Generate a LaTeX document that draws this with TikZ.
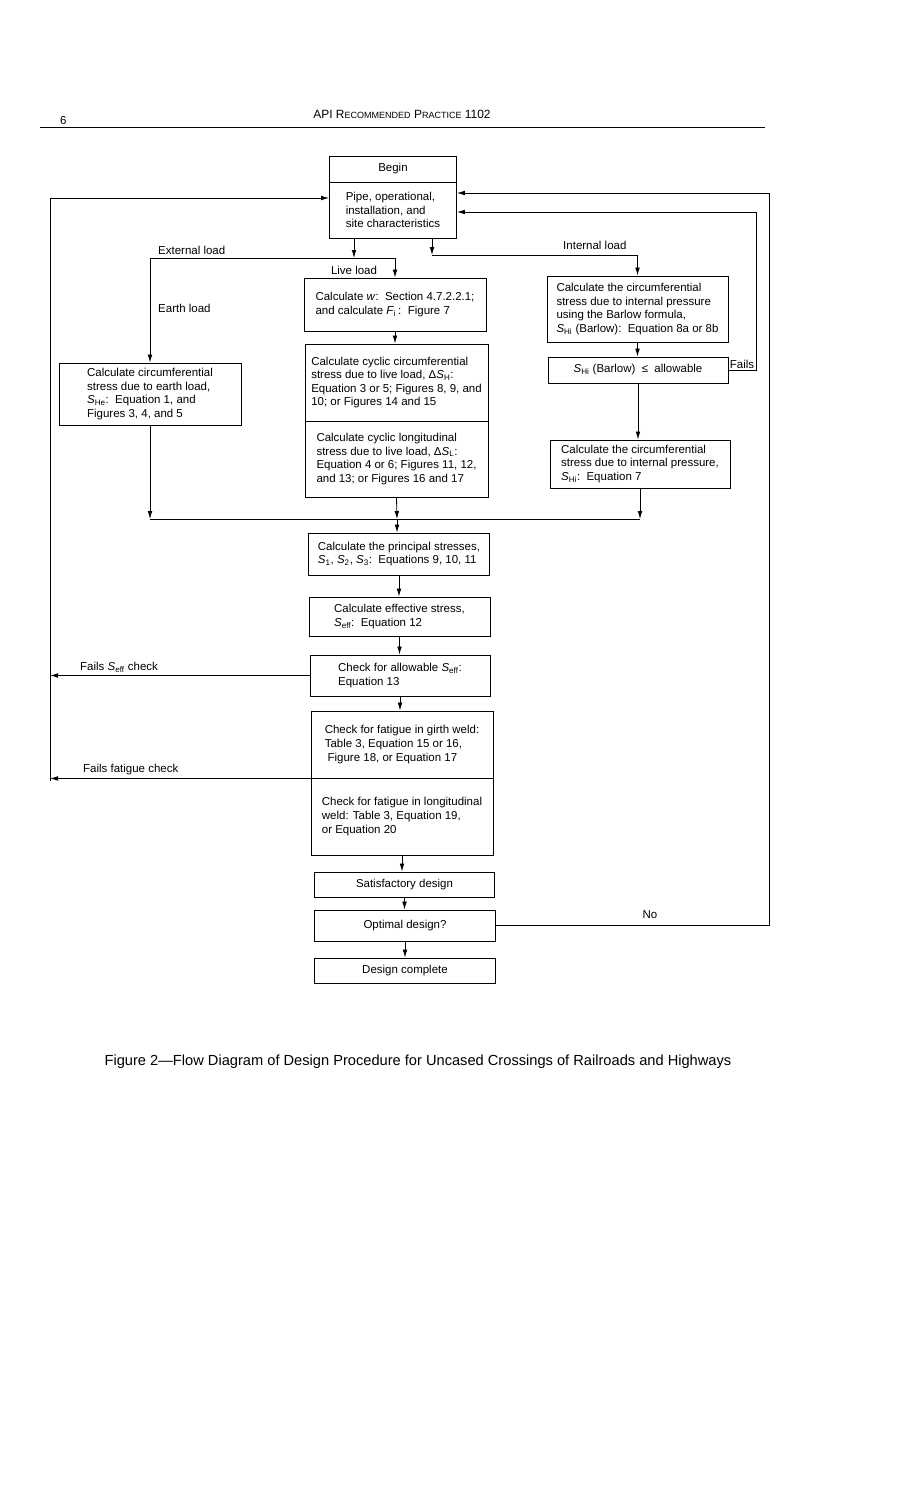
\documentclass[tikz,border=0pt]{standalone}
\usepackage{fontspec}
\setmainfont{Liberation Sans}
\usetikzlibrary{arrows.meta}

\newcommand{\Sx}[1]{\textit{S}\textsubscript{#1}}
\newcommand{\fakesc}[1]{{\fontsize{7.7}{9}\selectfont #1}}

\tikzset{boxsize/.style 2 args={minimum width=#1*0.3mm, minimum height=#2*0.3mm}}

\begin{document}
\begin{tikzpicture}[
  x=0.3mm, y=-0.3mm,
  font=\fontsize{9.8}{11.6}\selectfont,
  box/.style={draw=black, line width=0.75pt, align=left, inner sep=0pt},
  lbl/.style={inner sep=0pt, anchor=west},
  arrow/.style={-{Latex[length=2.4mm,width=1.4mm]}, line width=0.7pt},
  line/.style={line width=0.7pt}
]
  \useasboundingbox (0,0) rectangle (904,1487);

  % page head
  \node[anchor=west] (pageno) at (56,121) {6};
  \node[font=\fontsize{10.2}{12}\selectfont] (head) at (402,114) {API R\fakesc{ECOMMENDED} P\fakesc{RACTICE} 1102};
  \draw[line width=0.5pt] (40,127) -- (765,127);

  % boxes
  \node[box, boxsize={127}{26}, align=center] (begin) at (393,169) {Begin};
  \node[box, boxsize={127}{56}] (pipe) at (393,210) {Pipe, operational,\\installation, and\\site characteristics};
  \node[box, boxsize={182}{53}] (live) at (395,304.5) {Calculate \textit{w}:\ \ Section 4.7.2.2.1;\\and calculate \textit{F}\textsubscript{i}\,:\ \ Figure 7};
  \node[box, boxsize={183}{77}] (cycH) at (396.5,382.5) {Calculate cyclic circumferential\\stress due to live load, Δ\Sx{H}:\\Equation 3 or 5; Figures 8, 9, and\\10; or Figures 14 and 15};
  \node[box, boxsize={183}{76}] (cycL) at (396.5,459) {Calculate cyclic longitudinal\\stress due to live load, Δ\Sx{L}:\\Equation 4 or 6; Figures 11, 12,\\and 13; or Figures 16 and 17};
  \node[box, boxsize={182}{62}] (earth) at (150,394) {Calculate circumferential\\stress due to earth load,\\\Sx{He}:\ \ Equation 1, and\\Figures 3, 4, and 5};
  \node[box, boxsize={181}{66}] (barlow) at (637.5,309) {Calculate the circumferential\\stress due to internal pressure\\using the Barlow formula,\\\Sx{Hi} (Barlow):\ \ Equation 8a or 8b};
  \node[box, boxsize={180}{26}, align=center] (allow) at (638,370) {\Sx{Hi} (Barlow)\ \ ≤\ \ allowable};
  \node[box, boxsize={180}{48}] (shi) at (640,464) {Calculate the circumferential\\stress due to internal pressure,\\\Sx{Hi}:\ \ Equation 7};
  \node[box, boxsize={181}{42}] (princ) at (399,554) {Calculate the principal stresses,\\\Sx{1}, \Sx{2}, \Sx{3}:\ \ Equations 9, 10, 11};
  \node[box, boxsize={181}{39}] (eff) at (399.5,616.5) {Calculate effective stress,\\\Sx{eff}:\ \ Equation 12};
  \node[box, boxsize={180}{41}] (allowS) at (400,675.5) {Check for allowable \Sx{eff}:\\Equation 13};
  \node[box, boxsize={182}{67}] (fatG) at (402,744.5) {Check for fatigue in girth weld:\\Table 3, Equation 15 or 16,\\\hspace*{0.25em}Figure 18, or Equation 17};
  \node[box, boxsize={182}{77}] (fatL) at (402,816.5) {Check for fatigue in longitudinal\\weld: Table 3, Equation 19,\\or Equation 20};
  \node[box, boxsize={180}{25}, align=center] (satis) at (404.5,884.5) {Satisfactory design};
  \node[box, boxsize={181}{31}, align=center] (optim) at (405,925.5) {Optimal design?};
  \node[box, boxsize={181}{25}, align=center] (compl) at (405,970.5) {Design complete};

  % branch points
  \coordinate (extj) at (354,258);
  \coordinate (intj) at (432,255);
  \coordinate (mrg) at (397,519);
  \coordinate (lbot) at (50,781);
  \coordinate (ltop) at (50,198);
  \coordinate (rin) at (756,212);
  \coordinate (rout) at (769,193);

  % loads
  \draw[arrow] (extj |- pipe.south) -- (extj);
  \draw[arrow] (extj) -- (extj -| earth.north) -- (earth.north);
  \draw[arrow] (extj) -- (extj -| live.north) -- (live.north);
  \draw[arrow] (intj |- pipe.south) -- (intj);
  \draw[arrow] (intj) -- (intj -| barlow.north) -- (barlow.north);
  \node[lbl] (extlbl) at (158,250) {External load};
  \node (livelbl) at (354,270) {Live load};
  \node[lbl] (earthlbl) at (158,308) {Earth load};
  \node[lbl] (intlbl) at (563,245) {Internal load};

  % stress paths
  \draw[arrow] (live.south) -- (live.south |- cycH.north);
  \draw[arrow] (barlow.south) -- (barlow.south |- allow.north);
  \draw[arrow] (allow.south) -- (allow.south |- shi.north);
  \draw[arrow] (earth.south) -- (earth.south |- mrg);
  \draw[arrow] (cycL.south) -- (mrg);
  \draw[arrow] (shi.south) -- (shi.south |- mrg);
  \draw[line] (earth.south |- mrg) -- (shi.south |- mrg);
  \draw[arrow] (mrg) -- (mrg |- princ.north);

  % checks
  \foreach \a/\b in {princ/eff, eff/allowS, allowS/fatG, fatL/satis, satis/optim, optim/compl}
    \draw[arrow] (\a.south) -- (\a.south |- \b.north);

  % loops back
  \draw[arrow] (allowS.west) -- (allowS.west -| lbot);
  \draw[arrow] (fatG.south west) -- (fatG.south west -| lbot);
  \draw[line] (lbot) -- (ltop);
  \draw[arrow] (ltop) -- (ltop -| pipe.west);
  \node[lbl] (seffl) at (80,667) {Fails \Sx{eff} check};
  \node[lbl] (fatl) at (83,770) {Fails fatigue check};

  \draw[arrow] (allow.east) -- (allow.east -| rin) -- (rin) -- (rin -| pipe.east);
  \node[anchor=south west, inner sep=1pt] (failslbl) at (allow.east) {Fails};
  \draw[arrow] (optim.east) -- (optim.east -| rout) -- (rout) -- (rout -| pipe.east);
  \node (nolbl) at (650,915) {No};

  % caption
  \node[font=\fontsize{12.5}{14}\selectfont] (caption) at (418,1062) {Figure 2—Flow Diagram of Design Procedure for Uncased Crossings of Railroads and Highways};
\end{tikzpicture}
\end{document}
